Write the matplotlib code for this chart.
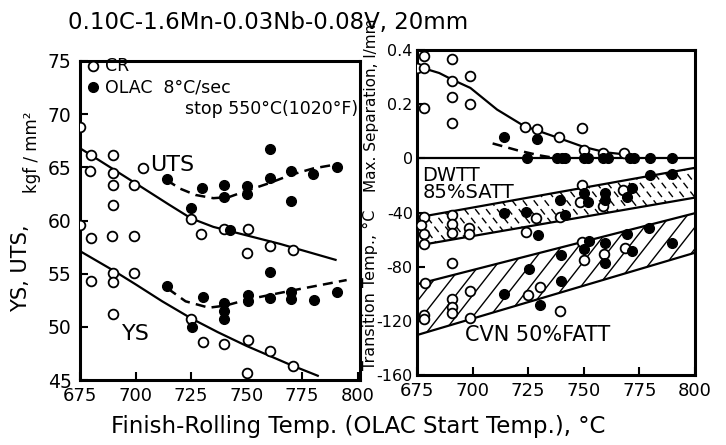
import numpy as np
import matplotlib.pyplot as plt
from matplotlib.patches import Polygon

plt.rcParams['font.family'] = 'DejaVu Sans'
plt.rcParams['axes.unicode_minus'] = False

# ---------------- left panel: YS / UTS, kgf/mm2 ----------------
uts_cr_t = [675, 680, 679.5, 690, 690, 690, 690, 699.5, 703.5, 725, 729.6, 740, 750.5, 750, 760.5, 770.7]
uts_cr = [68.8, 66.2, 64.7, 66.2, 64.5, 63.3, 61.5, 63.3, 64.9, 60.1, 58.7, 59.2, 59.2, 56.9, 57.6, 57.2]
ys_cr_t = [675, 680, 689.5, 699.5, 680, 690, 690, 699.5, 690, 725, 730.4, 740, 750.5, 750, 760.5, 770.7]
ys_cr = [59.6, 58.4, 58.5, 58.5, 54.3, 55.1, 54.2, 55.1, 51.2, 50.7, 48.6, 48.4, 48.8, 45.7, 47.7, 46.3]

uts_olac_t = [714, 730, 740, 740, 750, 750, 760.5, 760.5, 770, 770, 780, 790.5, 725, 742.5, 760.5]
uts_olac = [63.9, 63.1, 63.3, 62.2, 63.2, 62.5, 66.7, 64.0, 64.7, 61.8, 64.4, 65.0, 61.2, 59.1, 55.2]
ys_olac_t = [714, 730.4, 740, 740, 740, 750.5, 750.5, 760.5, 770, 770, 780.5, 790.5, 725.3]
ys_olac = [53.8, 52.8, 52.2, 51.5, 50.7, 53.0, 52.4, 52.7, 53.3, 52.6, 52.5, 53.3, 50.0]

# trend curves
uts_cr_fit_t = [675, 700, 715, 725, 735, 750, 765, 780, 790]
uts_cr_fit = [66.8, 63.5, 61.5, 60.2, 59.4, 58.6, 57.8, 56.9, 56.3]
uts_olac_fit_t = [714, 720, 727, 735, 742, 750, 760, 770, 780, 791]
uts_olac_fit = [63.8, 63.0, 62.4, 62.1, 62.2, 62.8, 63.5, 64.3, 64.9, 65.3]
ys_cr_fit_t = [676, 690, 700, 712, 725, 737, 750, 770, 782]
ys_cr_fit = [57.0, 55.3, 54.0, 52.4, 50.8, 49.5, 48.2, 46.4, 45.4]
ys_olac_fit_t = [714.5, 722.5, 733, 740.5, 751, 770, 795]
ys_olac_fit = [53.6, 52.4, 51.8, 52.0, 52.6, 53.4, 54.4]

# ---------------- right panel ----------------
# max. separation (1/mm), drawn on the upper part: 0.4 <-> 80 on the temp scale
sep_scale = 200.0
sep_cr_t = [675, 678, 678, 678, 690.8, 690.8, 690.8, 690.8, 698.8, 698.8, 723.6, 729, 738.7, 749.4, 750, 758.7, 768.1]
sep_cr = [0.335, 0.377, 0.334, 0.185, 0.367, 0.284, 0.228, 0.132, 0.305, 0.2, 0.116, 0.107, 0.077, 0.113, 0.03, 0.021, 0.02]
sep_olac_t = [714.2, 729, 724.5, 738, 740, 741.5, 750, 752, 758.7, 761, 770.8, 772.7, 779.8, 789.6]
sep_olac = [0.079, 0.073, 0, 0, 0, 0, 0, 0, 0, 0, 0, 0, 0, 0]
sep_cr_fit_t = [675, 685, 691, 699, 705, 711, 718, 723, 730, 738, 750, 760, 769]
sep_cr_fit = [0.34, 0.315, 0.29, 0.26, 0.22, 0.18, 0.145, 0.12, 0.10, 0.077, 0.042, 0.022, 0.014]
sep_olac_fit_t = [709, 720, 730, 738]
sep_olac_fit = [0.055, 0.03, 0.011, 0.0]

# DWTT 85% SATT, deg C
dwtt_cr_t = [749.4, 748.2, 758.7, 767.8, 728.5, 739.1, 678, 677, 690.8, 690.8, 690.8, 678, 678, 698.4, 698.4, 724]
dwtt_cr = [-19.6, -32.5, -35, -23.3, -44.2, -43, -43.6, -49.5, -41.9, -48.6, -54.8, -56, -63, -51.1, -56, -54.3]
dwtt_olac_t = [739.1, 750, 752, 759.5, 759.5, 771.5, 769.3, 779.8, 789.6, 714.2, 724, 741.7, 729.3]
dwtt_olac = [-30.6, -25.8, -32.5, -25.8, -30.6, -21.8, -28.8, -12.6, -11.4, -40.5, -39.4, -41.7, -56.8]

# CVN 50% FATT, deg C
cvn_cr_t = [678.8, 678, 678, 690.8, 690.8, 690.8, 690.8, 698.8, 698.8, 724.8, 730.1, 739.1, 749.4, 750, 759.2, 768.5]
cvn_cr = [-92, -115.6, -118.5, -77, -104, -110, -114, -97.7, -117.6, -100.7, -95, -113.1, -61.5, -75.1, -70.9, -66]
cvn_olac_t = [714.2, 725.2, 730.1, 739.6, 739.6, 750, 752.2, 759.5, 759.5, 769.3, 771.8, 779.5, 789.6]
cvn_olac = [-100.2, -81.6, -108.1, -71.7, -90.8, -67.2, -61, -62.3, -77.2, -56, -68.5, -51.1, -62.3]

band_t = [675, 800]
dwtt_hi = [-43.7, -7.0]
dwtt_lo = [-64.5, -29.0]
cvn_hi = [-93.0, -40.5]
cvn_lo = [-130.5, -69.7]

x_ticks = [675, 700, 725, 750, 775, 800]

fig = plt.figure(figsize=(7.26, 4.45), dpi=100)
ax1 = fig.add_axes([80 / 726, 65 / 445, 280 / 726, 319 / 445])
ax2 = fig.add_axes([417 / 726, 70 / 445, 278 / 726, 325 / 445])

ms = 7
open_kw = dict(ls='none', marker='o', ms=ms, mfc='white', mec='black', mew=1.3, zorder=5)
fill_kw = dict(ls='none', marker='o', ms=ms, mfc='black', mec='black', zorder=6)
dash = (0, (4, 2.5))

# left
ax1.plot(uts_cr_fit_t, uts_cr_fit, color='black', lw=1.6, zorder=3)
ax1.plot(ys_cr_fit_t, ys_cr_fit, color='black', lw=1.6, zorder=3)
ax1.plot(uts_olac_fit_t, uts_olac_fit, color='black', lw=1.8, ls=dash, zorder=3)
ax1.plot(ys_olac_fit_t, ys_olac_fit, color='black', lw=1.8, ls=dash, zorder=3)
ax1.plot(uts_cr_t, uts_cr, **open_kw)
ax1.plot(ys_cr_t, ys_cr, **open_kw)
ax1.plot(uts_olac_t, uts_olac, **fill_kw)
ax1.plot(ys_olac_t, ys_olac, **fill_kw)

ax1.text(716.5, 65.2, 'UTS', fontsize=16, ha='center', va='center')
ax1.text(700, 49.3, 'YS', fontsize=16, ha='center', va='center')

# legend
ax1.plot([0.048], [0.985], transform=ax1.transAxes, clip_on=False, **open_kw)
ax1.plot([0.048], [0.917], transform=ax1.transAxes, clip_on=False, **fill_kw)
ax1.text(0.088, 0.985, 'CR', transform=ax1.transAxes, fontsize=12.5, va='center')
ax1.text(0.088, 0.917, 'OLAC  8°C/sec', transform=ax1.transAxes, fontsize=12.5, va='center')
ax1.text(0.993, 0.848, 'stop 550°C(1020°F)', transform=ax1.transAxes, fontsize=12.5,
         va='center', ha='right')

ax1.set_xlim(675, 801)
ax1.set_ylim(45, 75)
ax1.set_xticks(x_ticks)
ax1.set_yticks([45, 50, 55, 60, 65, 70, 75])


def hatch(ax, t, lo, hi, dx, slope, ls):
    verts = np.column_stack([list(t) + list(t[::-1]), list(hi) + list(lo[::-1])])
    poly = Polygon(verts, closed=True, fc='none', ec='none')
    ax.add_patch(poly)
    xs = np.array([600.0, 900.0])
    for x0 in np.arange(560, 940, dx):
        ln, = ax.plot(xs, -60 + slope * (xs - x0), color='black', lw=1.0, ls=ls, zorder=2)
        ln.set_clip_path(poly)


# right
hatch(ax2, band_t, dwtt_lo, dwtt_hi, 4.9, -2.1, (0, (5, 3)))
hatch(ax2, band_t, cvn_lo, cvn_hi, 7.6, 2.1, '-')
for b in (dwtt_hi, dwtt_lo, cvn_hi, cvn_lo):
    ax2.plot(band_t, b, color='black', lw=1.6, zorder=3)

ax2.axhline(0, color='black', lw=1.6, zorder=3)
ax2.plot(sep_cr_fit_t, np.array(sep_cr_fit) * sep_scale, color='black', lw=1.6, zorder=3)
ax2.plot(sep_olac_fit_t, np.array(sep_olac_fit) * sep_scale, color='black', lw=1.8, ls=dash, zorder=3)
ax2.plot(sep_cr_t, np.array(sep_cr) * sep_scale, **open_kw)
ax2.plot(sep_olac_t, np.array(sep_olac) * sep_scale, **fill_kw)
ax2.plot(dwtt_cr_t, dwtt_cr, **open_kw)
ax2.plot(dwtt_olac_t, dwtt_olac, **fill_kw)
ax2.plot(cvn_cr_t, cvn_cr, **open_kw)
ax2.plot(cvn_olac_t, cvn_olac, **fill_kw)

ax2.text(677.5, -18.8, 'DWTT\n85%SATT', fontsize=14, linespacing=0.85,
         ha='left', va='center', zorder=7)
ax2.text(729.4, -130.5, 'CVN 50%FATT', fontsize=15, ha='center', va='center', zorder=7)

ax2.set_xlim(675, 800)
ax2.set_ylim(-160, 80)
ax2.set_xticks(x_ticks)
ax2.set_yticks([-160, -120, -80, -40, 0, 40, 80])
ax2.set_yticklabels(['-160', '-120', '-80', '-40', '0', '0.2', '0.4'])

for ax in (ax1, ax2):
    for s in ax.spines.values():
        s.set_linewidth(2.2)
    ax.tick_params(direction='in', length=6, width=1.5, top=False, right=False)
    ax.tick_params(axis='x', labelsize=13, pad=5)
ax1.tick_params(axis='y', labelsize=13.5, pad=6)
ax2.tick_params(axis='y', labelsize=11.5, pad=3)

# texts around the panels
fig.text(268 / 726, 1 - 23 / 445, '0.10C-1.6Mn-0.03Nb-0.08V, 20mm', fontsize=16.5,
         ha='center', va='center')
fig.text(358 / 726, 1 - 426 / 445, 'Finish-Rolling Temp. (OLAC Start Temp.), °C',
         fontsize=16.5, ha='center', va='center')
fig.text(21 / 726, 1 - 268 / 445, 'YS, UTS,', fontsize=15, rotation=90,
         ha='center', va='center')
fig.text(32 / 726, 1 - 152 / 445, 'kgf / mm²', fontsize=12, rotation=90,
         ha='center', va='center')
fig.text(372 / 726, 1 - 105 / 445, 'Max. Separation, l/mm', fontsize=11, rotation=90,
         ha='center', va='center')
fig.text(370 / 726, 1 - 290 / 445, 'Transition Temp., °C', fontsize=11.5, rotation=90,
         ha='center', va='center')

fig.savefig('out.png', dpi=100)
